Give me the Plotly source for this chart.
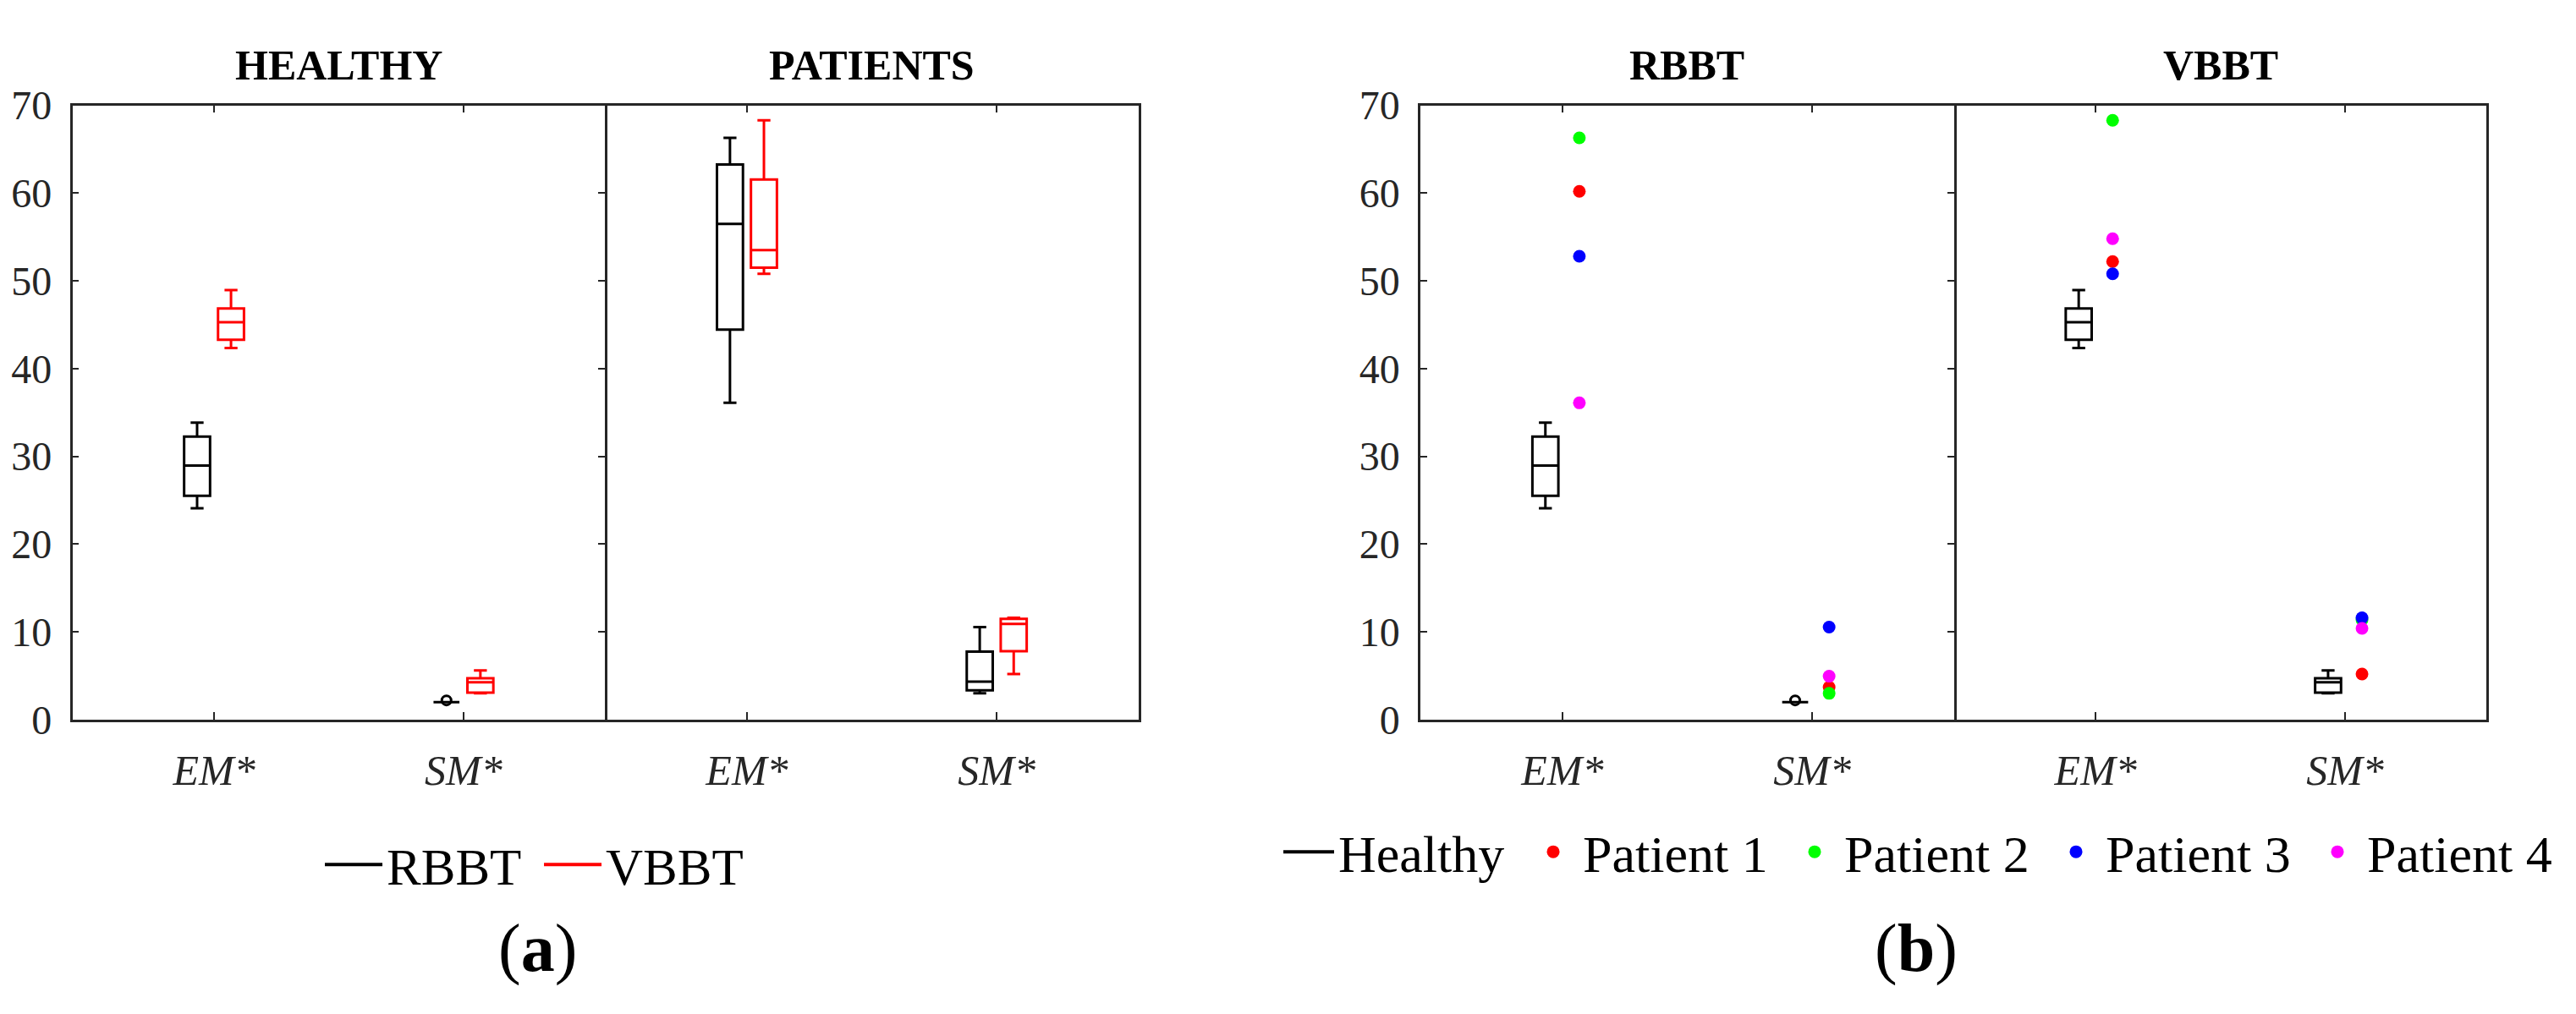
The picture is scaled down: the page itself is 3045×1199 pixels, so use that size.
import plotly.graph_objects as go

# categories on the x axis
categories = ["<i>EM*</i>", "<i>SM*</i>"]
cat_pos = [1, 2]
y_ticks = [0, 10, 20, 30, 40, 50, 60, 70]

# healthy group, box statistics (EM*, SM*)
healthy_rbbt_lower = [24.1, 2.0]
healthy_rbbt_q1 = [25.5, 2.0]
healthy_rbbt_median = [28.95, 2.0]
healthy_rbbt_q3 = [32.25, 2.0]
healthy_rbbt_upper = [33.85, 2.0]
healthy_rbbt_sm_outlier = [2.2]

healthy_vbbt_lower = [42.35, 3.0]
healthy_vbbt_q1 = [43.3, 3.07]
healthy_vbbt_median = [45.3, 4.25]
healthy_vbbt_q3 = [46.85, 4.72]
healthy_vbbt_upper = [48.95, 5.6]

# single patients
patients = ["Patient 1", "Patient 2", "Patient 3", "Patient 4"]
patient_colors = ["#ff0000", "#00ff00", "#0000ff", "#ff00ff"]
rbbt_em = [60.2, 66.3, 52.8, 36.1]
rbbt_sm = [3.7, 3.0, 10.55, 4.95]
vbbt_em = [52.2, 68.3, 50.8, 54.8]
vbbt_sm = [5.2, 11.4, 11.6, 10.4]

FONT = "Liberation Serif"
AXIS_COLOR = "#262626"
shift = 0.068     # side offset of the two series around a category
box_w = 0.104     # box width in category units

# page is 3045x1199, the html body keeps its default 8px margin
PAGE_W, PAGE_H, OFF = 3045, 1199, 8
W, H = PAGE_W - 2 * OFF, PAGE_H - 2 * OFF


def px_x(px):
    return (px - OFF) / W


def px_y(py):
    return 1 - (py - OFF) / H


left_pos = [p - shift for p in cat_pos]
right_pos = [p + shift for p in cat_pos]

fig = go.Figure()


def healthy_box(xpos, lower, q1, med, q3, upper, color, xa, ya):
    return go.Box(x=xpos, lowerfence=lower, q1=q1, median=med, q3=q3,
                  upperfence=upper, width=box_w, whiskerwidth=0.5,
                  line=dict(color=color, width=3),
                  fillcolor="rgba(0,0,0,0)", boxpoints=False,
                  showlegend=False, hoverinfo="skip", xaxis=xa, yaxis=ya)


def outlier(xa, ya):
    return go.Scatter(x=[left_pos[1]], y=healthy_rbbt_sm_outlier, mode="markers",
                      marker=dict(symbol="circle-open", size=11, color="black",
                                  line=dict(width=3)),
                      showlegend=False, hoverinfo="skip", xaxis=xa, yaxis=ya)


# (a) HEALTHY
fig.add_trace(healthy_box(left_pos, healthy_rbbt_lower, healthy_rbbt_q1, healthy_rbbt_median,
                          healthy_rbbt_q3, healthy_rbbt_upper, "black", "x", "y"))
fig.add_trace(outlier("x", "y"))
fig.add_trace(healthy_box(right_pos, healthy_vbbt_lower, healthy_vbbt_q1, healthy_vbbt_median,
                          healthy_vbbt_q3, healthy_vbbt_upper, "red", "x", "y"))

# (a) PATIENTS - boxes of the four patients
for vals_em, vals_sm, xpos, color in [(rbbt_em, rbbt_sm, left_pos, "black"),
                                      (vbbt_em, vbbt_sm, right_pos, "red")]:
    fig.add_trace(go.Box(x=[xpos[0]] * len(vals_em) + [xpos[1]] * len(vals_sm),
                         y=vals_em + vals_sm, quartilemethod="exclusive",
                         width=box_w, whiskerwidth=0.5, boxpoints=False,
                         line=dict(color=color, width=3), fillcolor="rgba(0,0,0,0)",
                         showlegend=False, hoverinfo="skip", xaxis="x2", yaxis="y2"))

# (b) RBBT and VBBT: healthy box + single patients
fig.add_trace(healthy_box(left_pos, healthy_rbbt_lower, healthy_rbbt_q1, healthy_rbbt_median,
                          healthy_rbbt_q3, healthy_rbbt_upper, "black", "x3", "y3"))
fig.add_trace(outlier("x3", "y3"))
fig.add_trace(healthy_box(left_pos, healthy_vbbt_lower, healthy_vbbt_q1, healthy_vbbt_median,
                          healthy_vbbt_q3, healthy_vbbt_upper, "black", "x4", "y4"))

for i, name in enumerate(patients):
    for em, sm, xa, ya, show in [(rbbt_em, rbbt_sm, "x3", "y3", True),
                                 (vbbt_em, vbbt_sm, "x4", "y4", False)]:
        fig.add_trace(go.Scatter(x=right_pos, y=[em[i], sm[i]], mode="markers",
                                 marker=dict(size=15, color=patient_colors[i]),
                                 name=name, legendgroup=name, showlegend=show,
                                 legend="legend2", hoverinfo="skip", xaxis=xa, yaxis=ya))

# legend-only line entries
fig.add_trace(go.Scatter(x=[None], y=[None], mode="lines", name="RBBT",
                         line=dict(color="black", width=4), legend="legend"))
fig.add_trace(go.Scatter(x=[None], y=[None], mode="lines", name="VBBT",
                         line=dict(color="red", width=4), legend="legend"))
fig.add_trace(go.Scatter(x=[None], y=[None], mode="lines", name="Healthy",
                         line=dict(color="black", width=4), legend="legend2",
                         legendrank=1, legendwidth=214))

# panel layout in page pixels
panels_px = [(86, 719), (719, 1353), (1688, 2322), (2322, 2955)]
top_px, bottom_px = 102.8, 863.3
ydom = [px_y(bottom_px), px_y(top_px)]
titles = ["HEALTHY", "PATIENTS", "RBBT", "VBBT"]

for k, (x0, x1) in enumerate(panels_px):
    sx = "" if k == 0 else str(k + 1)
    with_labels = k in (0, 2)
    fig.layout["xaxis" + sx] = dict(
        domain=[px_x(x0), px_x(x1)], range=[0.432, 2.568], tickvals=cat_pos,
        ticktext=categories, ticks="inside", ticklen=9, tickwidth=2,
        tickcolor=AXIS_COLOR, showline=True, linecolor=AXIS_COLOR, linewidth=2.5,
        mirror="ticks", showgrid=False, zeroline=False, anchor="y" + sx,
        tickfont=dict(family=FONT, size=50, color=AXIS_COLOR), ticklabelstandoff=14)
    yax = dict(
        domain=ydom, range=[0, 70], tickvals=y_ticks, showline=True,
        linecolor=AXIS_COLOR, linewidth=2.5, showgrid=False, zeroline=False,
        anchor="x" + sx)
    if with_labels:
        yax.update(ticks="inside", ticklen=8, tickwidth=2, tickcolor=AXIS_COLOR,
                   mirror="ticks", ticklabelstandoff=12,
                   tickfont=dict(family=FONT, size=48, color=AXIS_COLOR))
    else:
        # only the right border; the left one is the neighbour's mirror line
        yax.update(side="right", ticks="", showticklabels=False, mirror=False)
    fig.layout["yaxis" + sx] = yax
    fig.add_annotation(x=px_x((x0 + x1) / 2), y=px_y(52.5), xref="paper", yref="paper",
                       text="<b>" + titles[k] + "</b>", showarrow=False,
                       xanchor="center", yanchor="middle",
                       font=dict(family=FONT, size=50, color="black"))

for lab, xc in [("a", 639), ("b", 2277)]:
    fig.add_annotation(x=px_x(xc), y=px_y(1147), xref="paper", yref="paper",
                       text="(<b>" + lab + "</b>)", showarrow=False,
                       xanchor="center", yanchor="middle",
                       font=dict(family=FONT, size=80, color="black"))

fig.update_layout(
    width=W, height=H, margin=dict(l=0, r=0, t=0, b=0),
    paper_bgcolor="white", plot_bgcolor="white", boxmode="overlay",
    font=dict(family=FONT, color="black"),
    legend=dict(orientation="h", x=px_x(381), y=px_y(1043), xanchor="left",
                yanchor="middle", font=dict(family=FONT, size=61, color="black"),
                itemwidth=68, entrywidth=176, bgcolor="rgba(0,0,0,0)"),
    legend2=dict(orientation="h", x=px_x(1520), y=px_y(1027), xanchor="left",
                 yanchor="middle", font=dict(family=FONT, size=62, color="black"),
                 itemwidth=60, entrywidth=234, bgcolor="rgba(0,0,0,0)"),
)

fig.write_html("out.html")
